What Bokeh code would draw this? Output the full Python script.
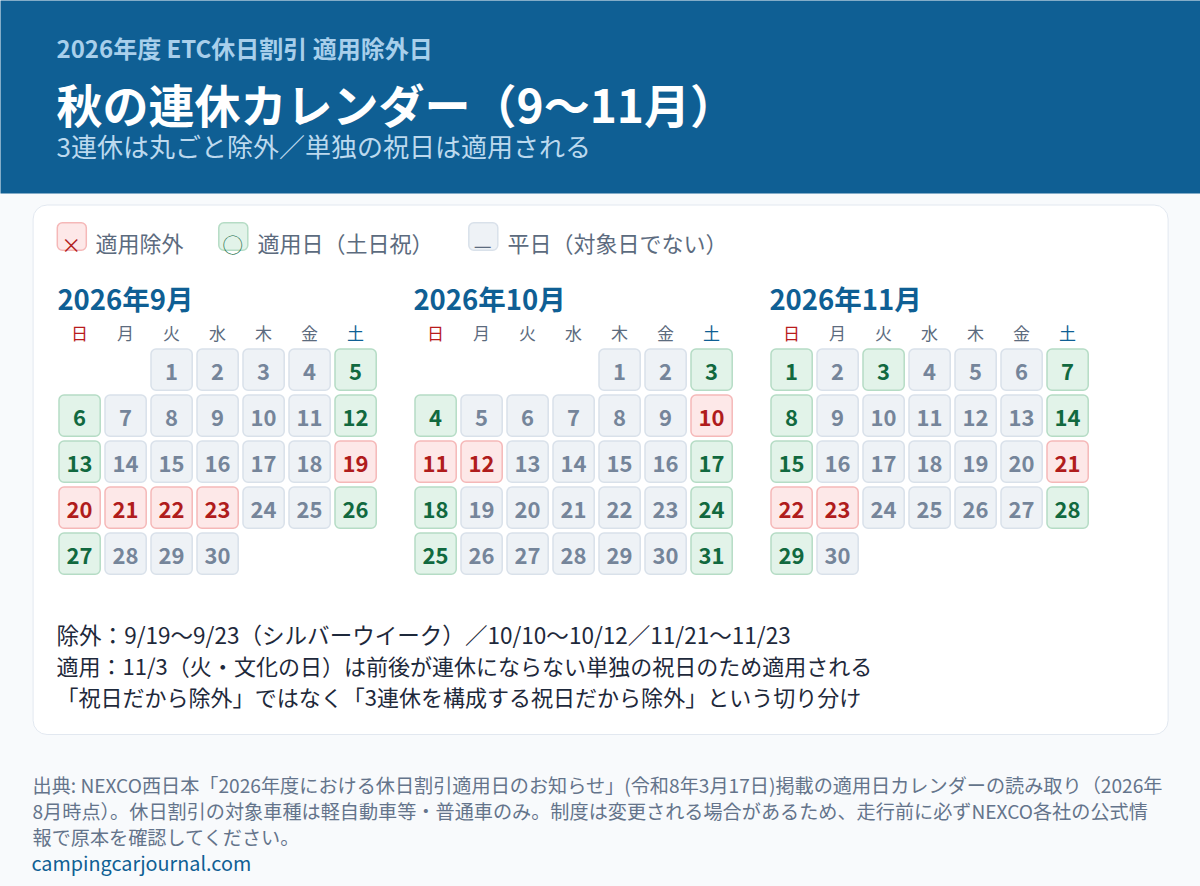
from bokeh.plotting import figure
from bokeh.models import Range1d, ColumnDataSource
from bokeh.core.properties import value
from bokeh.embed import file_html
from bokeh.resources import INLINE

# ---- data ----
eyebrow = "2026年度 ETC休日割引 適用除外日"
title = "秋の連休カレンダー（9〜11月）"
subtitle = "3連休は丸ごと除外／単独の祝日は適用される"
legend_labels = ["適用除外", "適用日（土日祝）", "平日（対象日でない）"]
legend_marks = ["×", "◯", "—"]
weekdays = ["日", "月", "火", "水", "木", "金", "土"]
month_titles = ["2026年9月", "2026年10月", "2026年11月"]
first_weekday = [2, 4, 0]
month_days = [30, 31, 30]
excluded = [[19, 20, 21, 22, 23], [10, 11, 12], [21, 22, 23]]
applied = [[5, 6, 12, 13, 26, 27], [3, 4, 17, 18, 24, 25, 31], [1, 3, 7, 8, 14, 15, 28, 29]]
notes = ["除外：9/19〜9/23（シルバーウイーク）／10/10〜10/12／11/21〜11/23",
         "適用：11/3（火・文化の日）は前後が連休にならない単独の祝日のため適用される",
         "「祝日だから除外」ではなく「3連休を構成する祝日だから除外」という切り分け"]
source_lines = ["出典: NEXCO西日本「2026年度における休日割引適用日のお知らせ」(令和8年3月17日)掲載の適用日カレンダーの読み取り（2026年",
                "8月時点）。休日割引の対象車種は軽自動車等・普通車のみ。制度は変更される場合があるため、走行前に必ずNEXCO各社の公式情",
                "報で原本を確認してください。"]
site = "campingcarjournal.com"

JP = value("Noto Sans CJK JP")
W, H = 1200, 886
BG = "#f8fafc"
p = figure(width=W, height=H, x_range=Range1d(1, W + 1), y_range=Range1d(H + 1, 1),
           output_backend="svg", toolbar_location=None, min_border=0,
           background_fill_color=BG, border_fill_color=BG, outline_line_color=None)
p.axis.visible = False
p.grid.visible = False

def label(x, y, t, size, color, bold=False, align="left"):
    p.text([x], [y], text=[t], text_font=JP, text_font_size=f"{size}px", text_color=color,
           text_font_style="bold" if bold else "normal", text_align=align, text_baseline="alphabetic")

# header and card
p.quad(left=[-5], right=[W + 5], top=[-5], bottom=[194], fill_color="#0f5f94", line_color=None)
p.quad(left=[33.6], right=[1168.6], top=[205.5], bottom=[735], fill_color="#ffffff", line_color="#e2e8f0",
       line_width=1, border_radius=14)

label(57, 48, eyebrow, 24, "#a8cfeb", bold=True)
label(57, 103.5, title, 46, "#ffffff", bold=True)
label(57, 146, subtitle, 26, "#bcd9ee")

STY = {"ex": ("#fde8e8", "#f5b8b8", "#b01c1c"),
       "ap": ("#e2f3e9", "#b5dcc5", "#11693f"),
       "wd": ("#eef2f6", "#d9e1ea", "#75859a")}

# legend
for x, t, m, k, tx in [(57.8, legend_labels[0], legend_marks[0], "ex", 96),
                       (219.3, legend_labels[1], legend_marks[1], "ap", 258),
                       (469.3, legend_labels[2], legend_marks[2], "wd", 508)]:
    f, b, c = STY[k]
    p.quad(left=[x], right=[x + 29], top=[223.2], bottom=[250.8], fill_color=f, line_color=b,
           line_width=1.5, border_radius=5)
    label(x + 14, 244.5, m, 20, c if k != "wd" else "#5c6b7e", align="center")
    label(tx, 242, t, 22, "#5c6b7e")

# calendars
CX0, MONTH_STEP, PITCH, CELL, ROW0 = 59.5, 356, 46, 41.2, 349.5
for mi, mt in enumerate(month_titles):
    ox = CX0 + mi * MONTH_STEP
    label(ox - 1.6, 298, mt, 27.5, "#0f5f94", bold=True)
    for c, d in enumerate(weekdays):
        col = "#b91c1c" if c == 0 else "#0f5f94" if c == 6 else "#5c6b7e"
        label(ox + c * PITCH + CELL / 2, 333, d, 17, col, align="center")
    rows = {"ex": [], "ap": [], "wd": []}
    for day in range(1, month_days[mi] + 1):
        k = "ex" if day in excluded[mi] else "ap" if day in applied[mi] else "wd"
        pos = first_weekday[mi] + day - 1
        rows[k].append((ox + (pos % 7) * PITCH, ROW0 + (pos // 7) * PITCH, day))
    for k, cells in rows.items():
        if not cells:
            continue
        f, b, c = STY[k]
        src = ColumnDataSource(dict(l=[a[0] for a in cells], t=[a[1] for a in cells],
                                    r=[a[0] + CELL for a in cells], b=[a[1] + CELL for a in cells],
                                    cx=[a[0] + CELL / 2 for a in cells], by=[a[1] + 22.5 for a in cells],
                                    d=[str(a[2]) for a in cells]))
        p.quad(left="l", right="r", top="t", bottom="b", source=src, fill_color=f, line_color=b,
               line_width=1.5, border_radius=5)
        p.text(x="cx", y="by", text="d", source=src, text_font=JP, text_font_size="22px", text_color=c,
               text_font_style="bold", text_align="center", text_baseline="alphabetic")

for i, (n, s) in enumerate(zip(notes, [22.55, 22.03, 22.03])):
    label(57, 634.5 + i * 31, n, s, "#1e293b")

for i, s in enumerate(source_lines):
    label(33, 785 + i * 26, s, 19.15, "#64748b")
label(32, 863, site, 19.8, "#0f5f94")

html = file_html(p, INLINE)
html = html.replace("<head>", f"<head><style>html,body{{margin:0;padding:0;background:{BG}}}</style>", 1)
open("out.html", "w").write(html)
